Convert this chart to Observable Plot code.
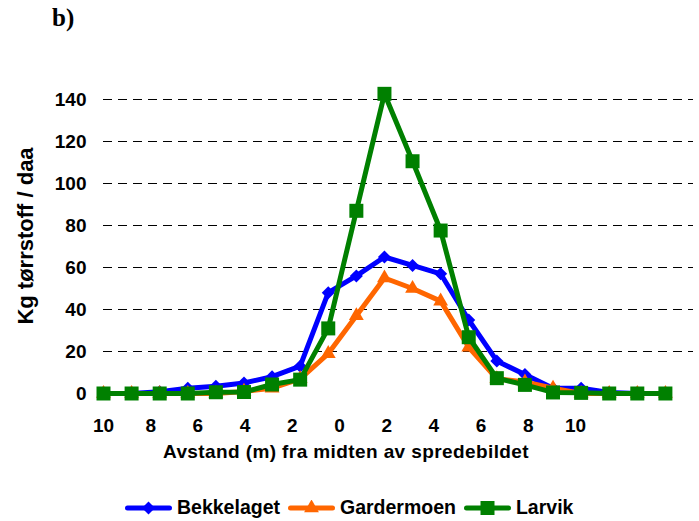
<!DOCTYPE html>
<html>
<head>
<meta charset="utf-8">
<script src="https://cdn.jsdelivr.net/npm/d3@7"></script>
<script src="https://cdn.jsdelivr.net/npm/@observablehq/plot@0.6"></script>
<style>
  html, body { margin: 0; padding: 0; background: #fff; }
  #wrap { position: relative; width: 699px; height: 521px; overflow: hidden; background: #fff;
          font-family: "Liberation Sans", Arial, sans-serif; font-weight: bold; color: #000; }
  #chart { position: absolute; left: 0; top: 0; }
  #title { position: absolute; left: 52px; top: 4px; font-family: "Liberation Serif", "Times New Roman", serif;
           font-size: 25px; font-weight: bold; }
  #ytitle { position: absolute; left: 26px; top: 236px; transform: translate(-50%, -50%) rotate(-90deg);
            white-space: nowrap; font-size: 22px; }
  #xtitle { position: absolute; left: 346px; top: 441px; transform: translateX(-50%); white-space: nowrap;
            font-size: 19px; letter-spacing: 0.4px; }
  #legend { position: absolute; left: 125px; top: 496px; display: flex; align-items: center; font-size: 19.5px; white-space: nowrap; }
  .item { display: flex; align-items: center; margin-right: 8px; }
  .item svg { margin-right: 5px; }
</style>
</head>
<body>
<div id="wrap">
  <div id="title">b)</div>
  <div id="chart"></div>
  <div id="ytitle">Kg tørrstoff / daa</div>
  <div id="xtitle">Avstand (m) fra midten av spredebildet</div>
  <div id="legend"></div>
</div>
<script>
const distances = [-10, -9, -8, -7, -6, -5, -4, -3, -2, -1, 0, 1, 2, 3, 4, 5, 6, 7, 8, 9, 10];
const bekkelaget = [0, 0, 0.8, 2.5, 3.5, 5, 8, 13, 48, 56, 65, 61, 57, 35, 15.5, 9, 2.5, 2.5, 0.5, 0, 0];
const gardermoen = [0, 0, 0, 0, 0, 1, 2.5, 7, 19, 37, 55, 50, 44, 22, 7, 5.5, 2.5, 0, 0, 0, 0];
const larvik = [0, 0, 0, 0, 0.6, 0.7, 4.3, 6.6, 31, 87, 142.7, 110.6, 77.6, 26.8, 7.3, 4.1, 0.5, 0.3, 0, 0, 0];
const seriesNames = ["Bekkelaget", "Gardermoen", "Larvik"];
const seriesValues = [bekkelaget, gardermoen, larvik];
const seriesColors = ["#0000ff", "#ff6600", "#008000"];
const yTicks = [0, 20, 40, 60, 80, 100, 120, 140];
const xTickLabels = ["10", "8", "6", "4", "2", "0", "2", "4", "6", "8", "10"];

// the category labels of the original sit on a tighter spacing than the data points
const xTickPositions = xTickLabels.map((_, i) => -10 + i * 1.68);
const labelOf = new Map(xTickPositions.map((p, i) => [p, xTickLabels[i]]));

const symbolSpec = [
  {symbol: "square", r: 5.2, rotate: 45},
  {symbol: "triangle", r: 5.5, rotate: 0},
  {symbol: "square", r: 7.9, rotate: 0}
];

const marks = [
  Plot.ruleY(yTicks.filter(v => v > 0), {stroke: "#000", strokeWidth: 1, strokeDasharray: "9,6"})
];
seriesNames.forEach((name, s) => {
  const rows = distances.map((d, i) => ({d, v: seriesValues[s][i], name}));
  marks.push(Plot.line(rows, {x: "d", y: "v", stroke: seriesColors[s], strokeWidth: 5, strokeLinejoin: "round"}));
  marks.push(Plot.dot(rows, {x: "d", y: "v", symbol: symbolSpec[s].symbol, r: symbolSpec[s].r,
    rotate: symbolSpec[s].rotate, fill: seriesColors[s], stroke: "none"}));
});
marks.push(Plot.axisY(yTicks, {tickSize: 0, tickPadding: 17, label: null}));
marks.push(Plot.axisX(xTickPositions, {tickSize: 0, tickPadding: 25, label: null, tickFormat: d => labelOf.get(d)}));

const chart = Plot.plot({
  width: 699,
  height: 470,
  marginLeft: 103,
  marginRight: 6,
  marginTop: 99,
  marginBottom: 77,
  x: {domain: [-10, 11]},
  y: {domain: [0, 140]},
  style: {fontSize: "19px", fontFamily: "'Liberation Sans', Arial, sans-serif", fontWeight: "bold",
          color: "#000", background: "transparent", overflow: "visible"},
  marks
});
document.getElementById("chart").appendChild(chart);

// legend
const legend = d3.select("#legend");
seriesNames.forEach((name, s) => {
  const item = legend.append("div").attr("class", "item");
  const svg = item.append("svg").attr("width", 47).attr("height", 16);
  svg.append("line").attr("x1", 2.5).attr("x2", 44.5).attr("y1", 8).attr("y2", 8)
    .attr("stroke", seriesColors[s]).attr("stroke-width", 5).attr("stroke-linecap", "round");
  const sym = symbolSpec[s];
  const type = sym.symbol === "triangle" ? d3.symbolTriangle : d3.symbolSquare;
  svg.append("path").attr("d", d3.symbol(type, Math.PI * sym.r * sym.r)())
    .attr("transform", `translate(23.5,8) rotate(${sym.rotate})`).attr("fill", seriesColors[s]);
  item.append("span").text(name);
});
</script>
</body>
</html>
